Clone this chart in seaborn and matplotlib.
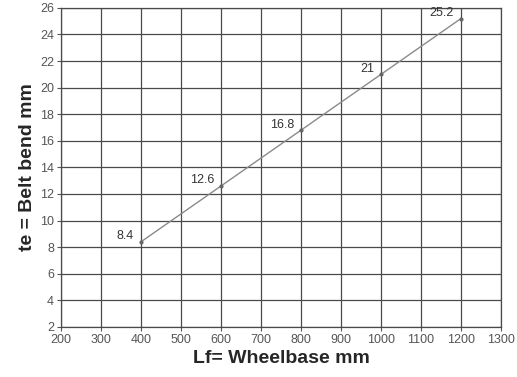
import matplotlib
matplotlib.use('Agg')
import matplotlib.pyplot as plt
import pandas as pd
import seaborn as sns

wheelbase = [400, 600, 800, 1000, 1200]
belt_bend = [8.4, 12.6, 16.8, 21, 25.2]
point_labels = ['8.4', '12.6', '16.8', '21', '25.2']
x_ticks = [200, 300, 400, 500, 600, 700, 800, 900, 1000, 1100, 1200, 1300]
y_ticks = [2, 4, 6, 8, 10, 12, 14, 16, 18, 20, 22, 24, 26]

df = pd.DataFrame({'Lf': wheelbase, 'te': belt_bend})

sns.set_style('white')
plt.rcParams['font.family'] = ['Liberation Sans', 'DejaVu Sans']

fig = plt.figure(figsize=(5.17, 3.77), dpi=100)
ax = fig.add_axes([0.118, 0.133, 0.851, 0.846])

sns.lineplot(data=df, x='Lf', y='te', ax=ax, color='#8a8a8a', linewidth=1.0,
             marker='o', markersize=3, markeredgewidth=0, markerfacecolor='#666666')

for x, y, lab in zip(wheelbase, belt_bend, point_labels):
    ax.annotate(lab, (x, y), xytext=(-5, 4), textcoords='offset points',
                ha='right', va='center', fontsize=9, color='#333333')

ax.set_xlim(200, 1300)
ax.set_ylim(2, 26)
ax.set_xticks(x_ticks)
ax.set_yticks(y_ticks)
ax.grid(True, color='#4a4a4a', linewidth=0.9)
ax.set_axisbelow(True)
for s in ax.spines.values():
    s.set_color('#4a4a4a')
    s.set_linewidth(0.9)
ax.tick_params(axis='both', labelsize=9, labelcolor='#555555', colors='#555555',
               length=3, width=0.8, direction='out', pad=2)
ax.tick_params(axis='y', left=True)
ax.tick_params(axis='x', bottom=True)

ax.set_xlabel('Lf= Wheelbase mm', fontsize=14, fontweight='bold', labelpad=3)
ax.set_ylabel('te = Belt bend mm', fontsize=14, fontweight='bold', labelpad=3)

fig.savefig('out.png', dpi=100)
